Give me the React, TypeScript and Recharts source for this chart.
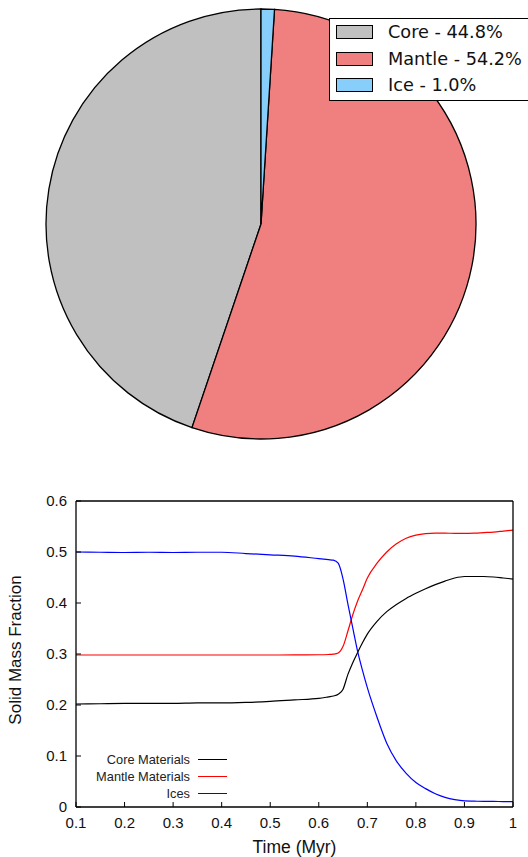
import React from 'react';
import { PieChart, Pie, Cell, Legend, LineChart, Line, XAxis, YAxis } from 'recharts';

// ---- Pie data ----
const pieLabels = ['Core', 'Mantle', 'Ice'];
const pieValues = [44.8, 54.2, 1.0];
const pieColors = ['#c0c0c0', '#f08080', '#87cefa'];

// ---- Line data ----
const timeValues = [0.1, 0.15, 0.2, 0.25, 0.3, 0.35, 0.4, 0.45, 0.5, 0.55, 0.6, 0.62, 0.63, 0.64, 0.65, 0.66, 0.67, 0.68, 0.69, 0.7, 0.72, 0.74, 0.76, 0.78, 0.8, 0.82, 0.84, 0.86, 0.88, 0.9, 0.92, 0.94, 0.96, 0.98, 1.0];
const coreValues = [0.202, 0.2025, 0.203, 0.203, 0.203, 0.204, 0.204, 0.205, 0.207, 0.21, 0.213, 0.216, 0.2176, 0.221, 0.231, 0.26, 0.283, 0.303, 0.322, 0.339, 0.364, 0.383, 0.397, 0.409, 0.419, 0.428, 0.436, 0.443, 0.449, 0.452, 0.452, 0.452, 0.451, 0.449, 0.447];
const mantleValues = [0.298, 0.298, 0.298, 0.298, 0.298, 0.298, 0.298, 0.298, 0.298, 0.2983, 0.2985, 0.299, 0.2997, 0.302, 0.315, 0.345, 0.377, 0.404, 0.426, 0.449, 0.478, 0.5, 0.516, 0.527, 0.533, 0.536, 0.537, 0.537, 0.5365, 0.5365, 0.537, 0.538, 0.539, 0.541, 0.543];
const iceValues = [0.5, 0.4995, 0.499, 0.4995, 0.499, 0.4995, 0.4995, 0.497, 0.4945, 0.492, 0.487, 0.485, 0.484, 0.478, 0.447, 0.398, 0.351, 0.305, 0.268, 0.234, 0.176, 0.125, 0.09, 0.066, 0.048, 0.036, 0.026, 0.019, 0.0145, 0.012, 0.0115, 0.011, 0.011, 0.0105, 0.0105];

const xTicks = [0.1, 0.2, 0.3, 0.4, 0.5, 0.6, 0.7, 0.8, 0.9, 1];
const yTicks = [0, 0.1, 0.2, 0.3, 0.4, 0.5, 0.6];

const seriesKeys = ['core', 'mantle', 'ice'];
const seriesNames = ['Core Materials', 'Mantle Materials', 'Ices'];
const seriesColors = ['#000000', '#ff0000', '#0000ff'];

const pieData = pieLabels.map((name, i) => ({ name, value: pieValues[i] }));
const lineData = timeValues.map((t, i) => ({
  t,
  core: coreValues[i],
  mantle: mantleValues[i],
  ice: iceValues[i],
}));

const sansFont = '"Liberation Sans", Arial, Helvetica, sans-serif';
const tickStyle = { fill: '#111', fontSize: 15, fontFamily: sansFont };

const PieLegend = () => (
  <div
    style={{
      width: 215,
      height: 83,
      border: '1.3px solid #000',
      background: '#fff',
      boxSizing: 'border-box',
      position: 'relative',
      fontFamily: '"DejaVu Sans", Verdana, sans-serif',
      fontSize: 17.7,
      color: '#111',
    }}
  >
    {pieLabels.map((name, i) => (
      <div key={name} style={{ position: 'absolute', left: 0, top: 0, width: '100%' }}>
        <div
          style={{
            position: 'absolute',
            left: 6,
            top: 6 + i * 26.5,
            width: 37,
            height: 14,
            background: pieColors[i],
            border: '1.3px solid #000',
            boxSizing: 'border-box',
          }}
        />
        <div
          style={{
            position: 'absolute',
            left: 58,
            top: 13 + i * 26.5 - 11,
            lineHeight: '22px',
            whiteSpace: 'nowrap',
          }}
        >
          {`${name} - ${pieValues[i].toFixed(1)}%`}
        </div>
      </div>
    ))}
  </div>
);

const LineLegend = () => (
  <div style={{ width: 230, height: 51, position: 'relative', fontFamily: sansFont, fontSize: 12.8, color: '#222' }}>
    {seriesNames.map((name, i) => (
      <div key={name} style={{ position: 'absolute', left: 0, top: i * 17, width: 230, height: 17 }}>
        <div style={{ position: 'absolute', right: 40, top: 0, lineHeight: '17px', whiteSpace: 'nowrap' }}>{name}</div>
        <div style={{ position: 'absolute', left: 198, top: 8, width: 29, height: 1, background: seriesColors[i] }} />
      </div>
    ))}
  </div>
);

export default function App() {
  return (
    <div style={{ position: 'absolute', left: 0, top: 0, width: 528, height: 857, overflow: 'hidden', background: '#fff' }}>
      <div style={{ position: 'absolute', left: 0, top: 0 }}>
        <PieChart width={528} height={460} margin={{ top: 0, right: 0, bottom: 0, left: 0 }}>
          <Pie
            data={pieData}
            dataKey="value"
            nameKey="name"
            cx={261}
            cy={224}
            innerRadius={0}
            outerRadius={215}
            startAngle={90}
            endAngle={450}
            paddingAngle={0}
            label={false}
            labelLine={false}
            isAnimationActive={false}
          >
            {pieData.map((d, i) => (
              <Cell key={d.name} fill={pieColors[i]} stroke="#000" strokeWidth={1.3} />
            ))}
          </Pie>
          <Legend
            layout="vertical"
            align="center"
            verticalAlign="middle"
            content={() => <PieLegend />}
            wrapperStyle={{ left: 329, top: 18, width: 215, height: 83 }}
          />
        </PieChart>
      </div>
      <div style={{ position: 'absolute', left: 0, top: 480 }}>
        <LineChart width={528} height={377} data={lineData} margin={{ top: 21, right: 15, bottom: 0, left: 0 }}>
          <XAxis
            xAxisId="top"
            orientation="top"
            mirror
            type="number"
            dataKey="t"
            domain={[0.1, 1]}
            ticks={xTicks}
            tick={false}
            tickSize={5}
            axisLine={{ stroke: '#000', strokeWidth: 1.3 }}
            tickLine={{ stroke: '#000', strokeWidth: 1 }}
          />
          <XAxis
            type="number"
            dataKey="t"
            domain={[0.1, 1]}
            ticks={xTicks}
            height={50}
            tick={tickStyle}
            tickSize={-5}
            tickMargin={15}
            axisLine={{ stroke: '#000', strokeWidth: 1.3 }}
            tickLine={{ stroke: '#000', strokeWidth: 1 }}
            label={{ value: 'Time (Myr)', position: 'center', dy: 15, fill: '#111', fontSize: 17.5, fontFamily: sansFont }}
          />
          <YAxis
            yAxisId="right"
            orientation="right"
            mirror
            type="number"
            domain={[0, 0.6]}
            ticks={yTicks}
            tick={false}
            tickSize={5}
            axisLine={{ stroke: '#000', strokeWidth: 1.3 }}
            tickLine={{ stroke: '#000', strokeWidth: 1 }}
          />
          <YAxis
            type="number"
            domain={[0, 0.6]}
            ticks={yTicks}
            width={76}
            tick={tickStyle}
            tickSize={-5}
            tickMargin={14}
            axisLine={{ stroke: '#000', strokeWidth: 1.3 }}
            tickLine={{ stroke: '#000', strokeWidth: 1 }}
            label={{ value: 'Solid Mass Fraction', angle: -90, position: 'center', dx: -23, dy: -4, fill: '#111', fontSize: 17, fontFamily: sansFont }}
          />
          {seriesKeys.map((k, i) => (
            <Line
              key={k}
              type="monotone"
              dataKey={k}
              name={seriesNames[i]}
              stroke={seriesColors[i]}
              strokeWidth={1.2}
              dot={false}
              activeDot={false}
              isAnimationActive={false}
            />
          ))}
          <Legend
            layout="vertical"
            align="center"
            verticalAlign="middle"
            content={() => <LineLegend />}
            wrapperStyle={{ left: 0, top: 271, width: 230, height: 51 }}
          />
        </LineChart>
      </div>
    </div>
  );
}
